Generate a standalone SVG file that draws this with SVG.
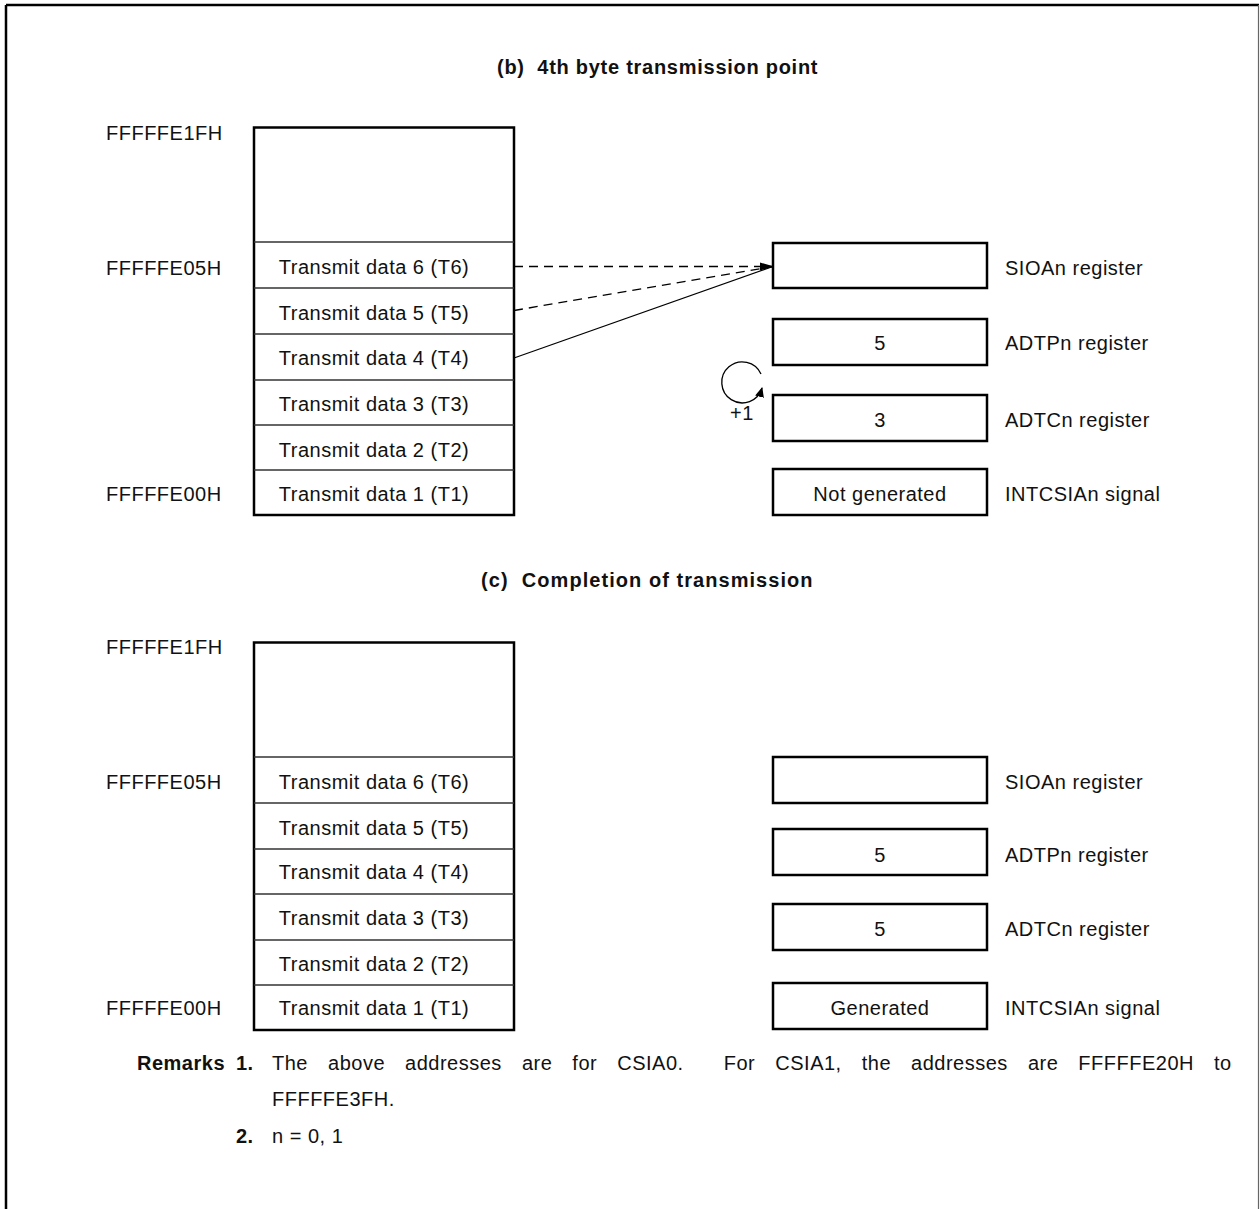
<svg xmlns="http://www.w3.org/2000/svg" width="1260" height="1209" viewBox="0 0 1260 1209">
<style>
text{font-family:"Liberation Sans",Arial,sans-serif;font-size:20px;letter-spacing:0.5px;fill:#111}
.b{font-weight:bold}
.m{text-anchor:middle}
.box{fill:#fff;stroke:#000;stroke-width:2.5}
.div{stroke:#333;stroke-width:1.3}
.ln{stroke:#000;stroke-width:1.3;fill:none}
.dash{stroke-dasharray:9,6}
</style>
<defs>
<marker id="ah" markerWidth="14" markerHeight="10" refX="13" refY="5" orient="auto" markerUnits="userSpaceOnUse">
<path d="M0,1 L14,5 L0,9 Z" fill="#000"/>
</marker>
<marker id="ah2" markerWidth="10" markerHeight="14" refX="9" refY="5" orient="auto" markerUnits="userSpaceOnUse">
<path d="M0,0.5 L10,5 L0,9.5 Z" fill="#000"/>
</marker>
</defs>
<g id="frame">
<line x1="6" y1="5" x2="1259" y2="5" stroke="#000" stroke-width="2.5"/>
<line x1="6" y1="5" x2="6" y2="1209" stroke="#000" stroke-width="2.5"/>
<line x1="1258.5" y1="5" x2="1258.5" y2="1209" stroke="#666" stroke-width="1.2"/>
</g>
<text class="b" x="497" y="74" textLength="321" lengthAdjust="spacing">(b)&#160; 4th byte transmission point</text>
<text class="b" x="481" y="587" textLength="332" lengthAdjust="spacing">(c)&#160; Completion of transmission</text>
<g id="addr-b">
<text x="106" y="140">FFFFFE1FH</text>
<text x="106" y="275">FFFFFE05H</text>
<text x="106" y="501">FFFFFE00H</text>
</g>
<g id="mem-b">
<rect class="box" x="254" y="127.5" width="260" height="387.5"/>
<line class="div" x1="254" y1="242" x2="514" y2="242"/>
<line class="div" x1="254" y1="288" x2="514" y2="288"/>
<line class="div" x1="254" y1="334" x2="514" y2="334"/>
<line class="div" x1="254" y1="380" x2="514" y2="380"/>
<line class="div" x1="254" y1="425" x2="514" y2="425"/>
<line class="div" x1="254" y1="470" x2="514" y2="470"/>
<text class="m" x="374" y="274">Transmit data 6 (T6)</text>
<text class="m" x="374" y="320">Transmit data 5 (T5)</text>
<text class="m" x="374" y="365">Transmit data 4 (T4)</text>
<text class="m" x="374" y="411">Transmit data 3 (T3)</text>
<text class="m" x="374" y="457">Transmit data 2 (T2)</text>
<text class="m" x="374" y="501">Transmit data 1 (T1)</text>
</g>
<g id="reg-b">
<rect class="box" x="773" y="243" width="214" height="45"/>
<rect class="box" x="773" y="319" width="214" height="46"/>
<text class="m" x="880" y="350">5</text>
<rect class="box" x="773" y="395" width="214" height="46"/>
<text class="m" x="880" y="427">3</text>
<rect class="box" x="773" y="469" width="214" height="46"/>
<text class="m" x="880" y="501">Not generated</text>
<text x="1005" y="275">SIOAn register</text>
<text x="1005" y="350">ADTPn register</text>
<text x="1005" y="427">ADTCn register</text>
<text x="1005" y="501">INTCSIAn signal</text>
</g>
<g id="connectors">
<line class="ln dash" x1="514" y1="266.5" x2="773" y2="266.5" marker-end="url(#ah)"/>
<line class="ln dash" x1="514" y1="310.5" x2="773" y2="266.5"/>
<line class="ln" x1="514" y1="358" x2="773" y2="266.5"/>
<path class="ln" d="M761,374 A20.5,20.5 0 1 0 762,388" marker-end="url(#ah2)"/>
</g>
<text class="m" x="742" y="420">+1</text>
<g id="addr-c">
<text x="106" y="654">FFFFFE1FH</text>
<text x="106" y="789">FFFFFE05H</text>
<text x="106" y="1015">FFFFFE00H</text>
</g>
<g id="mem-c">
<rect class="box" x="254" y="642.5" width="260" height="387.5"/>
<line class="div" x1="254" y1="757" x2="514" y2="757"/>
<line class="div" x1="254" y1="803" x2="514" y2="803"/>
<line class="div" x1="254" y1="849" x2="514" y2="849"/>
<line class="div" x1="254" y1="894" x2="514" y2="894"/>
<line class="div" x1="254" y1="940" x2="514" y2="940"/>
<line class="div" x1="254" y1="985" x2="514" y2="985"/>
<text class="m" x="374" y="789">Transmit data 6 (T6)</text>
<text class="m" x="374" y="835">Transmit data 5 (T5)</text>
<text class="m" x="374" y="879">Transmit data 4 (T4)</text>
<text class="m" x="374" y="925">Transmit data 3 (T3)</text>
<text class="m" x="374" y="971">Transmit data 2 (T2)</text>
<text class="m" x="374" y="1015">Transmit data 1 (T1)</text>
</g>
<g id="reg-c">
<rect class="box" x="773" y="757" width="214" height="46"/>
<rect class="box" x="773" y="829" width="214" height="46"/>
<text class="m" x="880" y="862">5</text>
<rect class="box" x="773" y="904" width="214" height="46"/>
<text class="m" x="880" y="936">5</text>
<rect class="box" x="773" y="983" width="214" height="46"/>
<text class="m" x="880" y="1015">Generated</text>
<text x="1005" y="789">SIOAn register</text>
<text x="1005" y="862">ADTPn register</text>
<text x="1005" y="936">ADTCn register</text>
<text x="1005" y="1015">INTCSIAn signal</text>
</g>
<g id="remarks">
<text class="b" x="137" y="1070">Remarks</text>
<text class="b" x="236" y="1070">1.</text>
<text x="272" y="1070" word-spacing="14">The above addresses are for CSIA0.&#160; For CSIA1, the addresses are FFFFFE20H to</text>
<text x="272" y="1106">FFFFFE3FH.</text>
<text class="b" x="236" y="1143">2.</text>
<text x="272" y="1143">n = 0, 1</text>
</g>
</svg>
